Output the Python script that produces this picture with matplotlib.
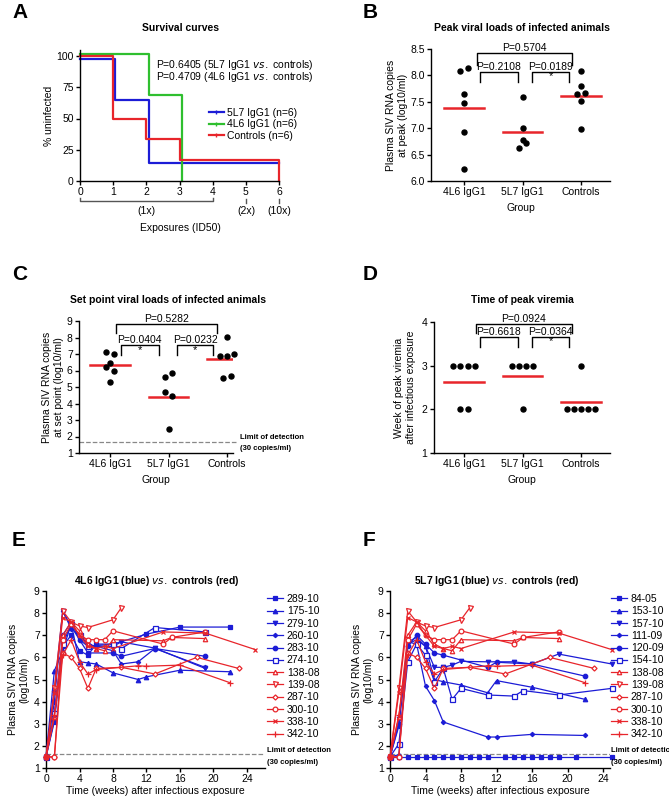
import matplotlib
matplotlib.use("Agg")
import matplotlib.pyplot as plt
from matplotlib.lines import Line2D

plt.rcParams['font.family'] = ['Liberation Sans', 'DejaVu Sans']
plt.rcParams['font.size'] = 7.5
plt.rcParams['axes.linewidth'] = 1.0

BLUE = '#1c1cd6'
RED = '#e8252b'
GREEN = '#2fbf2f'
W, H = 669, 800

# ---------------- data ----------------
groups = ['4L6 IgG1', '5L7 IgG1', 'Controls']

# A: survival
surv_5l7_t = [0, 1.07, 2.07, 6]
surv_5l7_v = [97.5, 64.5, 14.5, 14.5]
surv_4l6_t = [0, 2.07, 3.07, 3.07]
surv_4l6_v = [102, 68.6, 0, 0]
surv_ctl_t = [0, 1.0, 2.0, 3.0, 6.0]
surv_ctl_v = [100, 50, 33.3, 16.7, 0]

# B: peak viral load
peak_4l6 = [8.08, 8.14, 7.65, 7.48, 6.92, 6.23]
peak_5l7 = [7.60, 7.00, 6.78, 6.72, 6.62]
peak_ctl = [8.08, 7.80, 7.65, 7.67, 7.51, 6.99]
peak_mean = [7.38, 6.93, 7.61]

# C: set point
set_4l6 = [7.15, 7.02, 6.45, 6.22, 5.97, 5.30]
set_5l7 = [5.85, 5.60, 4.67, 4.45, 2.45]
set_ctl = [8.03, 7.00, 6.88, 6.85, 5.67, 5.55]
set_mean = [6.33, 4.42, 6.68]

# D: week of peak viremia
wk_4l6 = [3, 3, 3, 3, 2, 2]
wk_5l7 = [3, 3, 3, 3, 2]
wk_ctl = [3, 2, 2, 2, 2, 2]
wk_mean = [2.62, 2.77, 2.17]

# E/F: time courses (weeks, log10 copies/ml)
# controls
c138_08_w = [0, 1, 2, 3, 4, 5, 6, 7, 8, 14, 15, 19]
c138_08_v = [1.5, 3.3, 7.0, 7.6, 7.2, 6.6, 6.4, 6.3, 6.8, 6.75, 6.9, 6.85]
c139_08_w = [0, 1, 2, 3, 4, 5, 8, 9]
c139_08_v = [1.5, 4.6, 8.1, 7.6, 7.42, 7.35, 7.7, 8.25]
c287_10_w = [0, 1, 2, 3, 4, 5, 6, 9, 13, 18, 23]
c287_10_v = [1.5, 1.5, 6.2, 6.0, 5.5, 4.6, 5.5, 5.55, 5.25, 6.0, 5.5]
c300_10_w = [0, 1, 2, 3, 4, 5, 6, 7, 8, 14, 15, 19]
c300_10_v = [1.5, 1.5, 6.8, 7.5, 7.0, 6.8, 6.8, 6.8, 7.2, 6.6, 6.9, 7.15]
c338_10_w = [0, 1, 2, 3, 4, 5, 6, 7, 8, 14, 19, 25]
c338_10_v = [1.5, 4.4, 7.8, 7.6, 7.0, 6.5, 6.4, 6.5, 6.4, 7.15, 7.1, 6.35]
c342_10_w = [0, 1, 2, 3, 4, 5, 6, 11, 12, 16, 22]
c342_10_v = [1.5, 3.4, 6.1, 6.8, 5.8, 5.25, 5.45, 5.62, 5.6, 5.65, 4.85]
# 4L6 IgG1
e289_10_w = [0, 1, 2, 3, 4, 5, 6, 8, 12, 16, 22]
e289_10_v = [1.5, 3.1, 6.5, 7.0, 6.3, 6.1, 6.6, 6.6, 7.05, 7.37, 7.37]
e175_10_w = [0, 1, 2, 3, 4, 5, 6, 8, 11, 12, 16, 22]
e175_10_v = [1.5, 5.4, 6.3, 7.5, 5.8, 5.75, 5.7, 5.3, 5.0, 5.12, 5.42, 5.35]
e279_10_w = [0, 1, 2, 3, 4, 5, 8, 9, 13, 19]
e279_10_v = [1.5, 4.0, 8.1, 7.4, 6.8, 6.5, 6.5, 6.7, 6.42, 5.5]
e260_10_w = [0, 1, 2, 3, 4, 5, 6, 8, 9, 11, 13, 19]
e260_10_v = [1.5, 4.5, 8.1, 7.3, 7.0, 6.6, 6.5, 6.3, 5.7, 5.8, 6.4, 5.55]
e283_10_w = [0, 1, 2, 3, 4, 5, 8, 9, 13, 19]
e283_10_v = [1.5, 3.2, 7.0, 7.6, 6.8, 6.2, 6.2, 6.05, 6.4, 6.05]
e274_10_w = [0, 1, 2, 3, 4, 5, 8, 9, 13, 19]
e274_10_v = [1.5, 3.5, 6.6, 7.5, 7.0, 6.5, 6.6, 6.4, 7.35, 7.15]
# 5L7 IgG1
f84_05_w = [0, 1, 2, 3, 4, 5, 6, 7, 8, 9, 10, 11, 13, 14, 15, 16, 17, 18, 19, 21, 25]
f84_05_v = [1.5] * 21
f153_10_w = [0, 1, 2, 3, 4, 5, 6, 8, 11, 12, 16, 22]
f153_10_v = [1.5, 1.6, 6.6, 6.8, 6.5, 5.0, 4.9, 4.75, 4.4, 4.95, 4.65, 4.1]
f157_10_w = [0, 1, 2, 3, 4, 5, 6, 7, 8, 11, 14, 16, 19, 25]
f157_10_v = [1.5, 3.2, 6.7, 6.9, 6.5, 5.55, 5.55, 5.65, 5.82, 5.8, 5.8, 5.7, 6.15, 5.7]
f111_09_w = [0, 1, 2, 3, 4, 5, 6, 11, 12, 16, 22]
f111_09_v = [1.5, 2.9, 6.7, 6.6, 4.7, 4.05, 3.08, 2.4, 2.4, 2.52, 2.47]
f120_09_w = [0, 1, 2, 3, 4, 5, 6, 11, 12, 16, 22]
f120_09_v = [1.5, 3.0, 6.5, 7.0, 6.6, 6.2, 6.1, 5.55, 5.78, 5.7, 5.15]
f154_10_w = [0, 1, 2, 3, 4, 5, 6, 7, 8, 11, 14, 15, 19, 25]
f154_10_v = [1.5, 2.1, 5.8, 6.6, 6.1, 4.9, 5.5, 4.1, 4.6, 4.3, 4.25, 4.5, 4.3, 4.6]

lod = 1.65

fig = plt.figure(figsize=(W / 100, H / 100), dpi=100)


def make_ax(xp0, xv0, xp1, xv1, xlim, yp0, yv0, yp1, yv1, ylim):
    sx = (xp1 - xp0) / (xv1 - xv0)
    sy = (yp1 - yp0) / (yv1 - yv0)
    left = xp0 + (xlim[0] - xv0) * sx
    right = xp0 + (xlim[1] - xv0) * sx
    bottom = yp0 + (ylim[0] - yv0) * sy
    top = yp0 + (ylim[1] - yv0) * sy
    ax = fig.add_axes([left / W, 1 - bottom / H, (right - left) / W, (bottom - top) / H])
    ax.set_xlim(*xlim)
    ax.set_ylim(*ylim)
    for s in ['top', 'right']:
        ax.spines[s].set_visible(False)
    ax.tick_params(length=3, width=1, labelsize=7.5, pad=1.5)
    return ax


def letter(x, y, s):
    fig.text(x / W, 1 - y / H, s, fontsize=15, fontweight='bold', ha='left', va='center')


def title(x, y, s):
    fig.text(x / W, 1 - y / H, s, fontsize=7.5, fontweight='bold', ha='center', va='center')


def bracket(ax, x0, x1, y, leg, label, star=False):
    ax.plot([x0, x0, x1, x1], [y - leg, y, y, y - leg], color='black', lw=1.0, clip_on=False)
    ax.text((x0 + x1) / 2, y, label, ha='center', va='bottom', fontsize=7.5)
    if star:
        ax.text((x0 + x1) / 2, y - leg * 0.95, '*', ha='center', va='bottom', fontsize=8)


def dots(ax, vals_list, offs_list, means, half=0.34):
    for i, (vals, offs) in enumerate(zip(vals_list, offs_list)):
        ax.plot([i + o for o in offs], vals, 'o', color='black', ms=3.6, clip_on=False, zorder=3)
        ax.plot([i - half, i + half], [means[i]] * 2, color=RED, lw=1.8, zorder=2)
    ax.set_xticks(range(3))
    ax.set_xticklabels(groups)
    ax.set_xlabel('Group', fontsize=7.5, labelpad=4)


def fxy(x, y):
    return x / W, 1 - y / H


# ---------------- A ----------------
letter(12, 12, 'A')
title(180, 28, 'Survival curves')
axA = make_ax(80, 0, 279, 6, (0, 6), 181, 0, 56, 100, (0, 104.5))
axA.step(surv_5l7_t, surv_5l7_v, where='post', color=BLUE, lw=1.6, clip_on=False)
axA.step(surv_4l6_t, surv_4l6_v, where='post', color=GREEN, lw=1.6, clip_on=False)
axA.step(surv_ctl_t, surv_ctl_v, where='post', color=RED, lw=1.6, clip_on=False)
axA.set_yticks([0, 25, 50, 75, 100])
axA.set_xticks(range(7))
axA.set_ylabel('% uninfected', fontsize=7.5, labelpad=2)
axA.text(2.3, 93, 'P=0.6405 (5L7 IgG1 $\\it{vs.}$ controls)', fontsize=7.5, va='center')
axA.text(2.3, 83.5, 'P=0.4709 (4L6 IgG1 $\\it{vs.}$ controls)', fontsize=7.5, va='center')
hA = [Line2D([], [], color=c, lw=1.6, marker='|', ms=3) for c in (BLUE, GREEN, RED)]
axA.legend(hA, ['5L7 IgG1 (n=6)', '4L6 IgG1 (n=6)', 'Controls (n=6)'], loc='upper left',
           bbox_to_anchor=(0.62, 0.6), frameon=False, fontsize=7.5, handlelength=1.5,
           handletextpad=0.3, labelspacing=0.15, borderpad=0)
fig.add_artist(Line2D([80 / W, 80 / W, 213 / W, 213 / W], [1 - 198 / H, 1 - 201 / H, 1 - 201 / H, 1 - 198 / H], color='#555555', lw=1.0))
for xp in (246, 279):
    fig.add_artist(Line2D([xp / W, xp / W], [1 - 199 / H, 1 - 203 / H], color='#555555', lw=1.0))
fig.text(*fxy(146, 211), '(1x)', ha='center', va='center', fontsize=7.5)
fig.text(*fxy(246, 211), '(2x)', ha='center', va='center', fontsize=7.5)
fig.text(*fxy(279, 211), '(10x)', ha='center', va='center', fontsize=7.5)
fig.text(*fxy(180, 228), 'Exposures (ID50)', ha='center', va='center', fontsize=7.5)

# ---------------- B ----------------
letter(363, 12, 'B')
title(522, 28, 'Peak viral loads of infected animals')
axB = make_ax(464, 0, 581, 2, (-0.56, 2.5), 181, 6.0, 49, 8.5, (6.0, 8.5))
dots(axB, [peak_4l6, peak_5l7, peak_ctl],
     [[-0.06, 0.06, 0, 0, 0, 0], [0, 0, 0, 0.06, -0.06], [0, 0, -0.06, 0.06, 0, 0]], peak_mean)
axB.set_yticks([6.0, 6.5, 7.0, 7.5, 8.0, 8.5])
axB.set_yticklabels(['6.0', '6.5', '7.0', '7.5', '8.0', '8.5'])
axB.set_ylabel('Plasma SIV RNA copies\nat peak (log10/ml)', fontsize=7.5, labelpad=2)
bracket(axB, 0.22, 1.85, 8.42, 0.22, 'P=0.5704')
bracket(axB, 0.27, 0.92, 8.06, 0.18, 'P=0.2108')
bracket(axB, 1.16, 1.80, 8.06, 0.18, 'P=0.0189', star=True)

# ---------------- C ----------------
letter(12, 275, 'C')
title(168, 300, 'Set point viral loads of infected animals')
axC = make_ax(110, 0, 227, 2, (-0.53, 2.1), 453, 1, 321, 9, (1, 9))
dots(axC, [set_4l6, set_5l7, set_ctl],
     [[-0.06, 0.06, 0, -0.06, 0.06, 0], [0.06, -0.06, -0.06, 0.06, 0],
      [0, 0.12, -0.12, 0, 0.06, -0.06]], set_mean)
axC.set_yticks(range(1, 10))
axC.set_ylabel('Plasma SIV RNA copies\nat set point (log10/ml)', fontsize=7.5, labelpad=2)
axC.plot([-0.53, 2.18], [lod, lod], ls='--', color='#888888', lw=0.9, clip_on=False)
axC.text(2.22, 1.95, 'Limit of detection', fontsize=5.5, fontweight='bold', va='center')
axC.text(2.22, 1.25, '(30 copies/ml)', fontsize=5.5, fontweight='bold', va='center')
bracket(axC, 0.10, 1.83, 8.8, 0.5, 'P=0.5282')
bracket(axC, 0.19, 0.83, 7.55, 0.62, 'P=0.0404', star=True)
bracket(axC, 1.15, 1.76, 7.55, 0.62, 'P=0.0232', star=True)

# ---------------- D ----------------
letter(363, 275, 'D')
title(522, 300, 'Time of peak viremia')
axD = make_ax(464, 0, 581, 2, (-0.52, 2.5), 453, 1, 322, 4, (1, 4))


def spread(vals, step=0.12):
    seen = {}
    offs = []
    for v in vals:
        n = vals.count(v)
        k = seen.get(v, 0)
        seen[v] = k + 1
        offs.append((k - (n - 1) / 2) * step)
    return offs


dots(axD, [wk_4l6, wk_5l7, wk_ctl], [spread(wk_4l6), spread(wk_5l7), spread(wk_ctl)], wk_mean)
axD.set_yticks([1, 2, 3, 4])
axD.set_ylabel('Week of peak viremia\nafter infectious exposure', fontsize=7.5, labelpad=4)
bracket(axD, 0.20, 1.85, 3.96, 0.22, 'P=0.0924')
bracket(axD, 0.27, 0.92, 3.66, 0.23, 'P=0.6618')
bracket(axD, 1.16, 1.80, 3.66, 0.23, 'P=0.0364', star=True)

# ---------------- E / F ----------------
controls = [
    ('138-08', c138_08_w, c138_08_v, '^', False, 3.2),
    ('139-08', c139_08_w, c139_08_v, 'v', False, 3.6),
    ('287-10', c287_10_w, c287_10_v, 'D', False, 2.6),
    ('300-10', c300_10_w, c300_10_v, 'o', False, 3.4),
    ('338-10', c338_10_w, c338_10_v, 'x', True, 3.4),
    ('342-10', c342_10_w, c342_10_v, '+', True, 4.0),
]
treated_E = [
    ('289-10', e289_10_w, e289_10_v, 's', True, 3.2),
    ('175-10', e175_10_w, e175_10_v, '^', True, 3.2),
    ('279-10', e279_10_w, e279_10_v, 'v', True, 3.2),
    ('260-10', e260_10_w, e260_10_v, 'D', True, 2.2),
    ('283-10', e283_10_w, e283_10_v, 'o', True, 3.2),
    ('274-10', e274_10_w, e274_10_v, 's', False, 3.6),
]
treated_F = [
    ('84-05', f84_05_w, f84_05_v, 's', True, 3.2),
    ('153-10', f153_10_w, f153_10_v, '^', True, 3.2),
    ('157-10', f157_10_w, f157_10_v, 'v', True, 3.2),
    ('111-09', f111_09_w, f111_09_v, 'D', True, 2.2),
    ('120-09', f120_09_w, f120_09_v, 'o', True, 3.2),
    ('154-10', f154_10_w, f154_10_v, 's', False, 3.6),
]


def course(x0px, x24px, ttl, tx, letter_xy, letter_s, treated, leg_x, xmax):
    letter(*letter_xy, letter_s)
    ax = make_ax(x0px, 0, x24px, 24, (0, xmax), 768, 1, 591, 9, (1, 9))
    fig.text(tx / W, 1 - 581 / H, ttl, fontsize=7.5, fontweight='bold', ha='center', va='center')
    handles, labels = [], []
    for grp, col in ((treated, BLUE), (controls, RED)):
        for name, w, v, m, filled, ms in grp:
            fc = col if filled else 'white'
            ln, = ax.plot(w, v, color=col, lw=0.9, marker=m, ms=ms, mfc=fc, mec=col,
                          mew=0.9, clip_on=False, zorder=3)
            handles.append(ln)
            labels.append(name)
    ax.axhline(lod, ls='--', color='#888888', lw=0.9)
    ax.set_xticks(range(0, 25, 4))
    ax.set_yticks(range(1, 10))
    ax.set_xlabel('Time (weeks) after infectious exposure', fontsize=7.5, labelpad=1)
    ax.set_ylabel('Plasma SIV RNA copies\n(log10/ml)', fontsize=7.5, labelpad=3)
    fig.legend(handles, labels, loc='upper left', bbox_to_anchor=(leg_x / W, 1 - 594 / H),
               frameon=False, fontsize=7.5, handlelength=1.5, handletextpad=0.4,
               labelspacing=0.22, borderpad=0, borderaxespad=0)
    fig.text(leg_x / W, 1 - 750 / H, 'Limit of detection', fontsize=5.5, fontweight='bold', va='center')
    fig.text(leg_x / W, 1 - 762 / H, '(30 copies/ml)', fontsize=5.5, fontweight='bold', va='center')
    return ax


axE = course(46, 247, '4L6 IgG1 (blue) $\\it{vs.}$ controls (red)', 157, (12, 540), 'E', treated_E, 267, 26.2)
axF = course(390, 603, '5L7 IgG1 (blue) $\\it{vs.}$ controls (red)', 497, (363, 540), 'F', treated_F, 611, 24.8)

fig.savefig('out.png', dpi=100)
